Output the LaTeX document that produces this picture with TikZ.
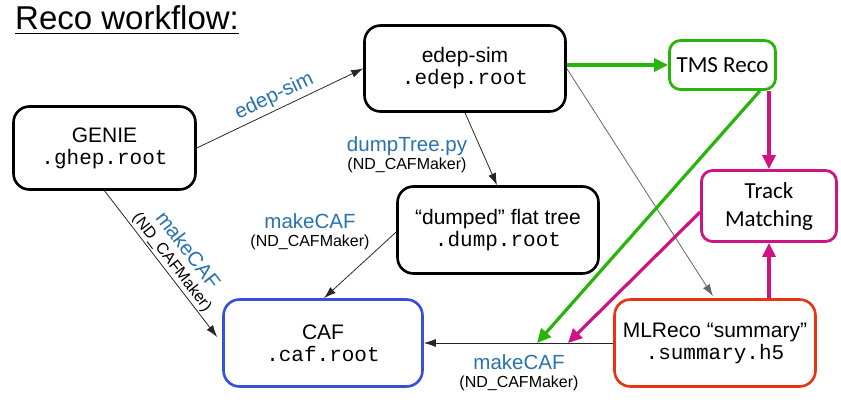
\documentclass[tikz,border=0pt]{standalone}
\usepackage{fontspec}
\setmainfont{Liberation Sans}
\setmonofont{Liberation Mono}
\newfontfamily\calib{Carlito}
\usetikzlibrary{arrows.meta,calc}
\definecolor{labblue}{RGB}{40,115,175}
\definecolor{tmsgreen}{RGB}{40,180,10}
\definecolor{tmmag}{RGB}{205,20,130}
\definecolor{cafblue}{RGB}{55,80,220}
\definecolor{mlred}{RGB}{235,50,20}
\begin{document}
\begin{tikzpicture}[x=1pt,y=-1pt,
  box/.style={draw=black, line width=2.6pt, rounded corners=16pt, align=center,
    font=\fontsize{21}{22}\selectfont, inner sep=0pt},
  cbox/.style={draw=#1, line width=2.8pt, rounded corners=11pt, align=center,
    font=\calib\fontsize{23}{28}\selectfont, inner sep=0pt},
  thin/.style={draw=black!85, line width=0.8pt, -{Latex[length=12pt,width=8pt]}},
  grayarr/.style={draw=black!60, line width=0.8pt, -{Latex[length=12pt,width=8pt]}},
  fat/.style={draw=#1, line width=3.2pt, -{Triangle[length=14pt,width=13pt]}},
  lab/.style={align=center, inner sep=0pt, font=\fontsize{16}{18}\selectfont},
  bl/.style={text=labblue, inner sep=0pt, font=\fontsize{20.5}{22}\selectfont}
]
\useasboundingbox (0,0) rectangle (841,406);

% title
\node[anchor=base west, inner sep=0pt, font=\fontsize{33}{33}\selectfont] (title) at (15,30) {Reco workflow:};
\draw[line width=1.5pt] ([yshift=-3.5pt]title.base west) -- ([yshift=-3.5pt]title.base east);

% boxes
\node[box, minimum width=182pt, minimum height=83pt] (genie) at (104.5,148) {GENIE\\\texttt{.ghep.root}};
\node[box, minimum width=201pt, minimum height=86pt] (edep) at (465,68.5) {edep-sim\\\texttt{.edep.root}};
\node[box, minimum width=201pt, minimum height=87pt] (dump) at (498,230) {“dumped” flat tree\\\texttt{.dump.root}};
\node[box, draw=cafblue, minimum width=199pt, minimum height=87pt] (caf) at (323,343) {CAF\\\texttt{.caf.root}};
\node[box, draw=mlred, minimum width=201pt, minimum height=87pt] (ml) at (715,343) {MLReco “summary”\\\texttt{.summary.h5}};
\node[cbox=tmsgreen, minimum width=106pt, minimum height=49pt] (tms) at (722.5,65) {TMS Reco};
\node[cbox=tmmag, minimum width=135pt, minimum height=71pt] (track) at (769,206) {Track\\Matching};

% points on the MLReco -> CAF connector
\coordinate (gin) at (537,343);
\coordinate (min) at (568,343);

% connectors
\draw[thin] (genie.east) -- (edep.west)
  node[midway, sloped, above=3pt, bl] (lab1) {edep-sim};
\draw[thin] (genie.south) -- ($(caf.west)+(-5,-6)$)
  node[pos=.53, sloped, above=1.5pt, lab] (lab2) {{\fontsize{20.5}{18}\selectfont\color{labblue}makeCAF}\\(ND\_CAFMaker)};
\draw[thin] (edep.south) -- ($(dump.north)+(-1,0)$);
\draw[thin] ($(dump.west)+(0,2)$) -- ($(caf.north)+(1,0)$);
\draw[grayarr] (edep.east) -- ($(ml.north)+(-2,-2)$);
\draw[thin] (ml.west) -- (caf.east);

\node[lab] (lab3) at (407,155) {{\fontsize{20.5}{18}\selectfont\color{labblue}dumpTree.py}\\(ND\_CAFMaker)};
\node[lab] (lab4) at (310,232) {{\fontsize{20.5}{18}\selectfont\color{labblue}makeCAF}\\(ND\_CAFMaker)};
\node[lab] (lab5) at (519,373) {{\fontsize{20.5}{18}\selectfont\color{labblue}makeCAF}\\(ND\_CAFMaker)};

\draw[fat=tmsgreen] (edep.east |- tms.west) -- (tms.west);
\draw[fat=tmsgreen] ($(tms.south east)+(-17,0)$) -- (gin);
\draw[fat=tmmag] (tms.south -| track.north) -- (track.north);
\draw[fat=tmmag] (track.south |- ml.north) -- (track.south);
\draw[fat=tmmag] ($(track.west)+(0,6)$) -- (min);
\end{tikzpicture}
\end{document}
